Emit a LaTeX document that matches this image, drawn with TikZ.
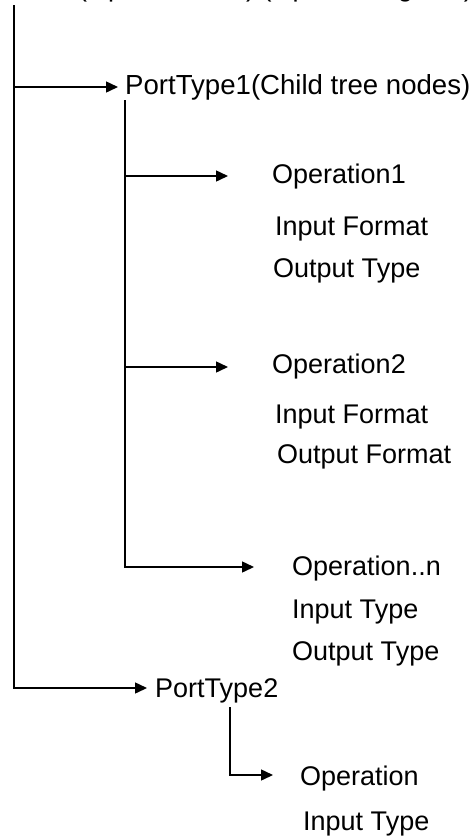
\documentclass[tikz,border=0pt]{standalone}
\usepackage{fontspec}
\setmainfont{Liberation Sans}
\usetikzlibrary{arrows.meta}
\begin{document}
\begin{tikzpicture}[x=1pt,y=-1pt,
  lbl/.style={anchor=base west,inner sep=0pt,font=\fontsize{27}{31}\selectfont},
  conn/.style={line width=1.5pt},
  arr/.style={conn,-{Triangle[length=12pt,width=11pt]}}]
\useasboundingbox (0,0) rectangle (469,839);
\clip (0,0) rectangle (469,839);
% text nodes
\node[lbl] (root) at (0,-4) {WSDL(Operation list) (Operation guide)};
\node[lbl,font=\fontsize{27.6}{31}\selectfont] (pt1) at (125,94) {PortType1(Child tree nodes)};
\node[lbl] (op1) at (272,183) {Operation1};
\node[lbl] (op1in) at (275,235) {Input Format};
\node[lbl] (op1out) at (273,277) {Output Type};
\node[lbl] (op2) at (272,373) {Operation2};
\node[lbl] (op2in) at (275,423) {Input Format};
\node[lbl] (op2out) at (277,463) {Output Format};
\node[lbl] (opn) at (292,575) {Operation..n};
\node[lbl] (opnin) at (292,618) {Input Type};
\node[lbl] (opnout) at (292,660) {Output Type};
\node[lbl] (pt2) at (155,697) {PortType2};
\node[lbl] (op) at (300,785) {Operation};
\node[lbl] (opin) at (303,830) {Input Type};
% connector points
\coordinate (t0) at (14,5);
\coordinate (a1) at (118,87);
\coordinate (a2) at (147,688);
\coordinate (t1) at (125,100);
\coordinate (a3) at (228,176);
\coordinate (a4) at (228,367);
\coordinate (a5) at (254,567);
\coordinate (t2) at (230,707);
\coordinate (a6) at (273,775);
% connectors
\draw[arr] (t0) |- (a2);
\draw[arr] (t0 |- a1) -- (a1);
\draw[arr] (t1) |- (a5);
\draw[arr] (t1 |- a3) -- (a3);
\draw[arr] (t1 |- a4) -- (a4);
\draw[arr] (t2) |- (a6);
\end{tikzpicture}
\end{document}
